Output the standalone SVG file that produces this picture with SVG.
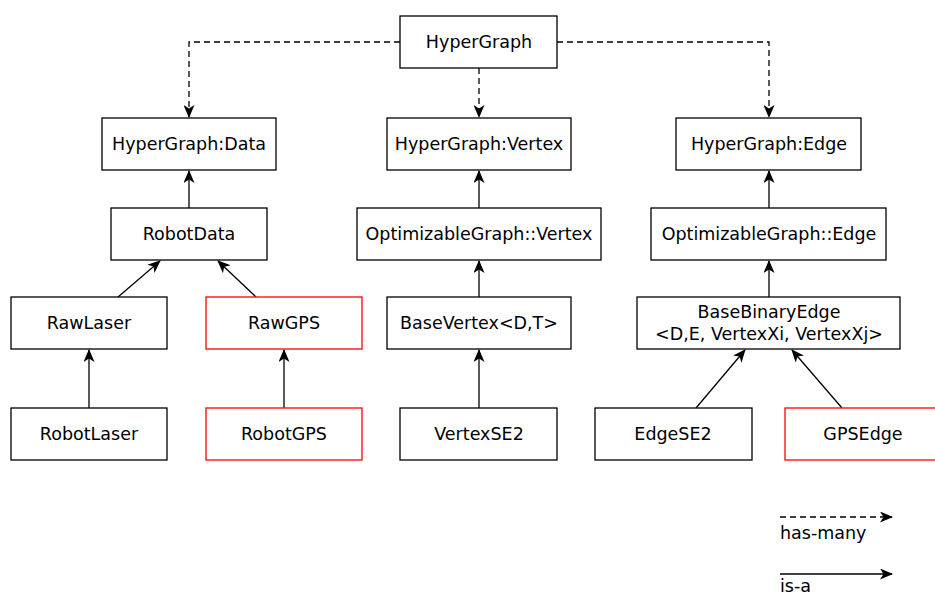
<svg xmlns="http://www.w3.org/2000/svg" width="935" height="597" viewBox="0 0 935 597">
  <style>
    .box { fill: #fff; stroke: #000; stroke-width: 1.3; }
    .red { fill: #fff; stroke: #f00; stroke-width: 1.3; }
    .lbl { font-family: "DejaVu Sans", sans-serif; font-size: 17.5px; fill: #000; text-anchor: middle; dominant-baseline: central; }
    .leg { font-family: "DejaVu Sans", sans-serif; font-size: 17.5px; fill: #000; }
    .has { fill: none; stroke: #000; stroke-width: 1.3; stroke-dasharray: 6 4; marker-end: url(#arr); }
    .isa { fill: none; stroke: #000; stroke-width: 1.3; marker-end: url(#arr); }
  </style>
  <defs>
    <marker id="arr" viewBox="0 0 13 11" refX="12" refY="5.5" markerWidth="13" markerHeight="11" markerUnits="userSpaceOnUse" orient="auto">
      <path d="M0,0 L13,5.5 L0,11 L3.5,5.5 Z" fill="#000"/>
    </marker>
  </defs>
  <rect width="935" height="597" fill="#fff"/>

  <!-- connectors -->
  <g id="connectors">
    <path class="has" d="M400,42 H189 V117"/>
    <path class="has" d="M479,68 V117"/>
    <path class="has" d="M557,42 H769 V117"/>
    <path class="isa" d="M189,208 V171"/>
    <path class="isa" d="M118,297 L160,261"/>
    <path class="isa" d="M256,297 L218,261"/>
    <path class="isa" d="M89,408 V350"/>
    <path class="isa" d="M284,408 V350"/>
    <path class="isa" d="M479,208 V171"/>
    <path class="isa" d="M479,297 V261"/>
    <path class="isa" d="M479,408 V350"/>
    <path class="isa" d="M769,208 V171"/>
    <path class="isa" d="M769,297 V261"/>
    <path class="isa" d="M696,408 L745,350"/>
    <path class="isa" d="M842,408 L792,350"/>
  </g>

  <g id="hypergraph"><rect class="box" x="400" y="16" width="157" height="52"/><text class="lbl" x="479" y="42">HyperGraph</text></g>
  <g id="hg-data"><rect class="box" x="102" y="118" width="174" height="52"/><text class="lbl" x="189" y="144">HyperGraph:Data</text></g>
  <g id="hg-vertex"><rect class="box" x="387" y="118" width="184" height="52"/><text class="lbl" x="479" y="144">HyperGraph:Vertex</text></g>
  <g id="hg-edge"><rect class="box" x="676" y="118" width="185" height="52"/><text class="lbl" x="769" y="144">HyperGraph:Edge</text></g>
  <g id="robotdata"><rect class="box" x="111" y="208" width="156" height="52"/><text class="lbl" x="189" y="234">RobotData</text></g>
  <g id="og-vertex"><rect class="box" x="357" y="208" width="244" height="52"/><text class="lbl" x="479" y="234">OptimizableGraph::Vertex</text></g>
  <g id="og-edge"><rect class="box" x="651" y="208" width="235" height="52"/><text class="lbl" x="769" y="234">OptimizableGraph::Edge</text></g>
  <g id="rawlaser"><rect class="box" x="11" y="297" width="156" height="52"/><text class="lbl" x="89" y="323">RawLaser</text></g>
  <g id="rawgps"><rect class="red" x="206" y="297" width="156" height="52"/><text class="lbl" x="284" y="323">RawGPS</text></g>
  <g id="basevertex"><rect class="box" x="387" y="297" width="184" height="52"/><text class="lbl" x="479" y="323">BaseVertex&lt;D,T&gt;</text></g>
  <g id="basebinaryedge"><rect class="box" x="637" y="297" width="263" height="52"/><text class="lbl" x="769" y="312">BaseBinaryEdge</text><text class="lbl" x="769" y="334">&lt;D,E, VertexXi, VertexXj&gt;</text></g>
  <g id="robotlaser"><rect class="box" x="11" y="408" width="156" height="52"/><text class="lbl" x="89" y="434">RobotLaser</text></g>
  <g id="robotgps"><rect class="red" x="206" y="408" width="156" height="52"/><text class="lbl" x="284" y="434">RobotGPS</text></g>
  <g id="vertexse2"><rect class="box" x="400" y="408" width="157" height="52"/><text class="lbl" x="479" y="434">VertexSE2</text></g>
  <g id="edgese2"><rect class="box" x="595" y="408" width="157" height="52"/><text class="lbl" x="673" y="434">EdgeSE2</text></g>
  <g id="gpsedge"><rect class="red" x="785" y="408" width="157" height="52"/><text class="lbl" x="863" y="434">GPSEdge</text></g>

  <!-- legend -->
  <g id="legend">
    <path class="has" d="M780,517 H892"/>
    <text class="leg" x="780" y="539">has-many</text>
    <path class="isa" d="M780,574 H892"/>
    <text class="leg" x="780" y="592">is-a</text>
  </g>
</svg>
